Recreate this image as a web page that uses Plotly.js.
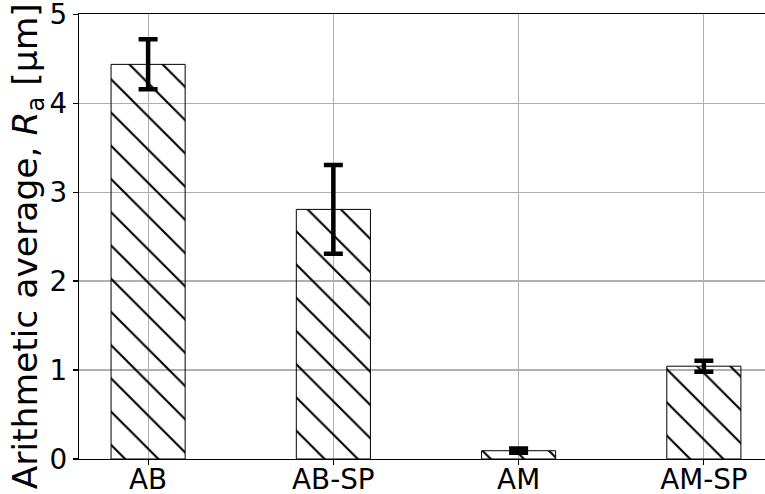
<!DOCTYPE html>
<html>
<head>
<meta charset="utf-8">
<script src="https://cdn.plot.ly/plotly-3.0.1.min.js"></script>
<style>html,body{margin:0;padding:0;background:#fff;}#chart{width:765px;height:494px;}</style>
</head>
<body>
<div id="chart"></div>
<script>
const categories = ["AB", "AB-SP", "AM", "AM-SP"];
const raMean = [4.435, 2.805, 0.093, 1.043];
const raStd = [0.281, 0.498, 0.024, 0.062];
const yTicks = [0, 1, 2, 3, 4, 5];

const trace = {
  type: "bar",
  x: categories.map((c, i) => i),
  y: raMean,
  width: 0.4,
  marker: {
    color: "rgba(255,255,255,0)",
    line: {color: "#000", width: 1},
    pattern: {shape: "\\", size: 23.5, solidity: 0.09, fgcolor: "#000", fgopacity: 1, bgcolor: "rgba(255,255,255,0)", fillmode: "overlay"}
  },
  error_y: {type: "data", array: raStd, visible: true, color: "#000", thickness: 4.5, width: 9.5},
  hoverinfo: "skip"
};

const layout = {
  width: 765, height: 494,
  margin: {l: 79, r: 0, t: 14, b: 35},
  paper_bgcolor: "#fff", plot_bgcolor: "#fff",
  showlegend: false,
  font: {family: "DejaVu Sans", color: "#000", size: 27.8},
  bargap: 0,
  xaxis: {
    range: [-0.373, 3.33],
    tickmode: "array", tickvals: categories.map((c, i) => i), ticktext: categories,
    showline: true, linecolor: "#000", linewidth: 1.2, mirror: true,
    ticks: "outside", ticklen: 5, tickwidth: 1.1, tickcolor: "#000",
    ticklabelstandoff: -10, ticklabeloverflow: "allow",
    showgrid: true, gridcolor: "#b0b0b0", gridwidth: 1.1,
    zeroline: false, automargin: false,
    tickfont: {size: 27.8, family: "DejaVu Sans", color: "#000"}
  },
  yaxis: {
    range: [0, 5.001],
    tickmode: "array", tickvals: yTicks, ticktext: yTicks.map(String),
    showline: true, linecolor: "#000", linewidth: 1.2,
    ticks: "outside", ticklen: 5, tickwidth: 1.1, tickcolor: "#000",
    ticklabeloverflow: "allow",
    showgrid: true, gridcolor: "#b0b0b0", gridwidth: 1.1,
    zeroline: false, automargin: false,
    tickfont: {size: 27.8, family: "DejaVu Sans", color: "#000"}
  },
  annotations: [{
    text: "Arithmetic average, <i>R</i><sub>a</sub> [μm]",
    xref: "paper", yref: "paper",
    x: (27 - 79) / 686, y: (459.3 - 246.5) / 445.3,
    xanchor: "center", yanchor: "middle",
    textangle: -90, showarrow: false,
    font: {size: 34.5, family: "DejaVu Sans", color: "#000"}
  }]
};

Plotly.newPlot("chart", [trace], layout, {staticPlot: true, displayModeBar: false});
</script>
</body>
</html>
